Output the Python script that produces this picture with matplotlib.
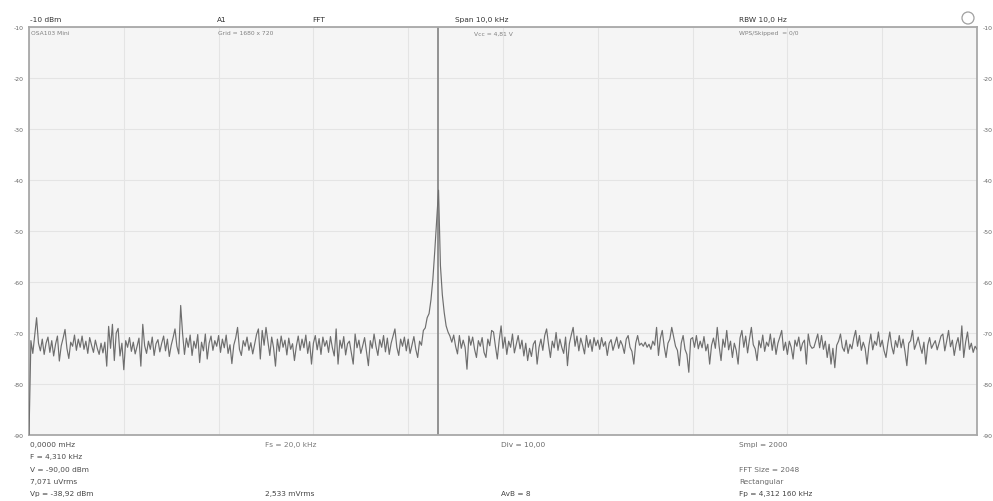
import numpy as np
import matplotlib
matplotlib.use("Agg")
import matplotlib.pyplot as plt
from matplotlib.patches import Ellipse

# ---------------- data ----------------
span_khz = 10.0
marker_khz = 4.310
y_ticks = [-10, -20, -30, -40, -50, -60, -70, -80, -90]

level_dbm = [
    -90.0, -71.5, -74.0, -70.5, -67.0, -72.0, -73.5, -71.2, -74.2, -72.0,
    -70.8, -73.8, -71.5, -74.5, -72.2, -70.6, -75.5, -72.5, -71.0, -69.3,
    -73.0, -75.0, -71.8, -72.6, -70.4, -73.4, -71.2, -72.8, -70.6, -73.2,
    -71.6, -74.0, -70.9, -72.4, -73.8, -71.4, -73.0, -74.2, -72.0, -73.9,
    -71.8, -76.5, -68.7, -73.0, -68.3, -75.4, -70.0, -69.1, -74.5, -72.0,
    -77.2, -71.5, -72.8, -70.9, -73.6, -71.8, -74.1, -72.6, -71.0, -76.5,
    -68.3, -72.5, -74.0, -71.6, -73.2, -70.8, -74.4, -72.1, -71.3, -73.7,
    -72.0, -70.6, -73.5, -71.2, -74.6, -72.4, -70.9, -69.2, -72.6, -74.1,
    -64.6, -70.1, -74.2, -71.0, -72.8, -70.4, -74.4, -71.6, -73.0, -70.3,
    -75.8, -71.8, -73.5, -70.2, -75.1, -72.0, -70.6, -73.4, -71.5, -72.6,
    -70.5, -73.8, -71.2, -72.9, -70.4, -74.0, -72.3, -76.0, -72.4, -71.0,
    -68.9, -73.2, -74.4, -71.5, -72.6, -70.8, -73.4, -71.9, -74.1, -72.2,
    -70.3, -69.2, -75.1, -69.5, -72.4, -68.9, -71.6, -74.4, -70.8, -72.9,
    -76.5, -71.2, -73.6, -70.6, -72.8, -71.4, -74.3, -71.0, -73.2, -72.1,
    -75.4, -72.6, -70.6, -73.4, -71.2, -72.9, -70.4, -74.0, -71.7, -76.1,
    -72.0, -70.5, -73.3, -71.1, -74.2, -70.8, -72.6, -71.5, -73.8, -70.7,
    -72.9, -74.5, -69.2, -76.1, -71.4, -73.0, -70.7, -74.3, -72.1, -71.6,
    -73.8, -76.1, -70.2, -72.9, -71.4, -74.0, -72.5, -70.9, -73.6, -76.4,
    -71.5, -73.0, -70.2, -72.6, -74.4, -71.3, -72.8, -70.5, -73.7, -71.0,
    -74.2, -72.0, -70.6, -69.2, -72.8, -74.4, -71.2, -72.6, -70.8, -73.5,
    -71.2, -74.0, -72.3, -70.7, -73.2, -74.8, -71.6, -72.4, -69.5, -69.0,
    -67.0, -66.2, -63.5, -59.5, -54.0, -48.0, -42.0, -56.8, -62.5, -66.0,
    -68.6, -69.8, -70.6, -71.8, -70.4, -72.6, -74.1, -70.5, -73.0, -71.4,
    -72.8, -77.1, -70.6, -72.4, -70.8, -73.2, -74.8, -71.5, -72.6, -70.9,
    -73.8, -74.8, -71.2, -72.5, -69.5, -69.8, -72.6, -75.1, -71.4, -68.6,
    -73.0, -70.8, -74.2, -71.6, -72.8, -70.2, -73.9, -72.2, -70.5, -73.1,
    -71.4, -74.5, -72.0, -75.4, -73.0, -74.6, -72.2, -71.5, -76.1, -72.8,
    -71.2, -73.4, -70.5, -69.2, -72.2, -74.8, -71.6, -72.9, -69.9, -73.4,
    -71.2, -72.8, -74.0, -70.8, -76.4, -72.1, -70.4, -68.9, -72.6, -70.6,
    -73.5, -71.0, -72.4, -74.1, -70.5, -72.8, -71.3, -73.6, -70.9, -72.5,
    -71.4, -73.2, -70.9, -72.6, -71.7, -74.4, -72.0, -71.3, -73.4, -72.1,
    -70.8, -73.0, -71.5, -72.4, -74.0, -71.2, -70.5, -72.8, -73.6, -76.1,
    -72.0, -70.5, -72.4, -72.0, -72.6, -71.8, -72.8, -72.2, -73.2, -71.6,
    -72.4, -68.9, -74.4, -71.0, -69.5, -72.6, -74.8, -72.0, -71.2, -68.9,
    -70.8, -72.6, -73.4, -76.4, -72.0, -70.5, -73.2, -74.2, -77.7, -71.2,
    -70.9, -72.8, -70.5, -73.1, -71.6, -72.9, -70.7, -73.5, -72.2, -76.1,
    -72.4, -71.0, -73.0, -68.9, -72.6, -75.4, -71.2, -72.8, -69.5, -73.3,
    -71.6, -74.8, -72.0, -73.4, -76.1, -71.0, -69.5, -72.8, -70.6, -73.9,
    -71.2, -68.9, -72.3, -73.1, -75.4, -71.5, -72.9, -70.4, -73.6, -71.8,
    -72.6, -70.2, -73.4, -71.0, -74.2, -72.0, -70.8, -69.5, -73.4, -71.8,
    -74.2, -71.6, -72.8, -75.1, -71.4, -72.6, -70.8, -73.5, -72.0, -71.4,
    -76.1, -70.2, -72.4, -73.0, -72.8, -71.5, -70.2, -72.9, -70.5, -73.2,
    -71.6, -74.8, -72.2, -76.1, -73.0, -76.8, -72.4, -71.6, -70.2, -72.8,
    -73.6, -71.4, -74.0, -72.2, -73.1, -71.0, -69.5, -72.6, -70.5, -73.4,
    -71.8, -73.0, -76.1, -72.4, -70.2, -73.3, -71.6, -72.4, -69.8, -72.7,
    -71.4, -73.5, -74.8, -72.0, -69.8, -72.6, -74.1, -71.5, -72.8, -70.5,
    -72.9, -71.2, -73.6, -76.4, -72.0, -71.5, -69.5, -73.2, -72.1, -70.8,
    -72.6, -74.0, -71.8, -76.1, -72.4, -70.9, -73.0, -72.2, -71.5, -73.3,
    -72.0, -70.6, -70.2, -73.5, -71.6, -69.5, -72.7, -71.4, -74.4, -72.2,
    -70.9, -73.4, -68.6, -74.8, -71.8, -69.8, -73.2, -72.0, -73.8, -72.6,
    -73.2,
]
freq_khz = np.linspace(0.0, span_khz, len(level_dbm))

header_texts = ["-10 dBm", "A1", "FFT", "Span 10,0 kHz", "RBW 10,0 Hz"]
inner_texts = ["OSA103 Mini", "Grid = 1680 x 720", "Vcc = 4,81 V", "WPS/Skipped  = 0/0"]
footer_col1 = ["0,0000 mHz", "F = 4,310 kHz", "V = -90,00 dBm", "7,071 uVrms", "Vp = -38,92 dBm"]
footer_col2 = ["Fs = 20,0 kHz", "", "", "", "2,533 mVrms"]
footer_col3 = ["Div = 10,00", "", "", "", "AvB = 8"]
footer_col4 = ["Smpl = 2000", "", "FFT Size = 2048", "Rectangular", "Fp = 4,312 160 kHz"]

# ---------------- figure ----------------
W, H = 993, 502
plt.rcParams['font.family'] = ['DejaVu Sans']
fig = plt.figure(figsize=(W / 100, H / 100), dpi=100)
fig.patch.set_facecolor('white')

L, R, T, B = 29, 977, 28, 436
ax = fig.add_axes([L / W, 1 - B / H, (R - L) / W, (B - T) / H])
ax.set_facecolor('#f5f5f5')
ax.set_xlim(0, span_khz)
ax.set_ylim(-90, -10)
ax.set_xticks(np.arange(0, span_khz + 0.01, 1.0))
ax.set_yticks(y_ticks)
ax.set_yticklabels([str(v) for v in y_ticks])
ax.tick_params(axis='x', length=0, labelbottom=False)
ax.tick_params(axis='y', length=0, labelleft=True, labelright=True,
               labelsize=4.4, labelcolor='#666666', pad=4)
ax.grid(True, color='#e4e4e4', lw=0.8)
ax.set_axisbelow(True)
for s in ax.spines.values():
    s.set_color('#a8a8a8')
    s.set_linewidth(1.3)

ax.axvline(marker_khz, color='#8a8a8a', lw=1.3, zorder=2)
ax.plot(freq_khz, level_dbm, color='#6e6e6e', lw=0.85, zorder=3)


def px(x, y):
    return x / W, 1 - y / H


head_x = [30, 217, 312, 455, 739]
for t, x in zip(header_texts, head_x):
    fig.text(*px(x, 20), t, fontsize=5.3, color='#333333', va='center', ha='left')

inner_x = [31, 218, 474, 739]
for t, x in zip(inner_texts, inner_x):
    fig.text(*px(x, 34), t, fontsize=4.3, color='#808080', va='center', ha='left')

circ = Ellipse(px(968, 19), width=12 / W, height=12 / H, transform=fig.transFigure,
               fill=False, ec='#a0a0a0', lw=0.9)
fig.patches.append(circ)

rows_y = [445, 457, 470, 482, 494]
cols = [(30, footer_col1, '#4a4a4a'), (265, footer_col2, '#7a7a7a'),
        (501, footer_col3, '#6a6a6a'), (739, footer_col4, '#6a6a6a')]
for x, col, c in cols:
    for i, (t, y) in enumerate(zip(col, rows_y)):
        if t:
            cc = '#444444' if i == 4 else c
            fig.text(*px(x, y), t, fontsize=5.3, color=cc, va='center', ha='left')

fig.savefig('out.png', dpi=100)
